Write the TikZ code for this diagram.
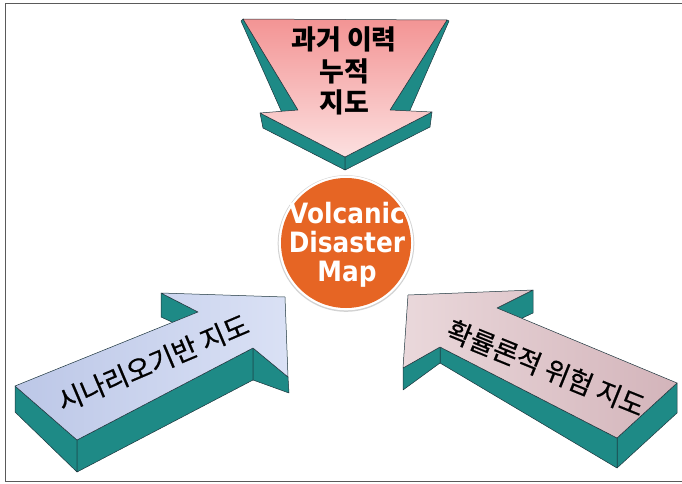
\documentclass[tikz,border=0pt]{standalone}
\usepackage{fontspec}
\newfontfamily\krfont{Noto Sans CJK KR}
\newfontfamily\krmid{Noto Sans CJK KR}[FakeBold=0.6]
\newfontfamily\vfont{DejaVu Sans}[FakeStretch=0.885]
\definecolor{tealc}{RGB}{30,138,134}
\definecolor{edgec}{RGB}{28,52,60}
\definecolor{framec}{RGB}{90,90,90}
\definecolor{pinkA}{RGB}{243,148,148}
\definecolor{pinkB}{RGB}{252,224,224}
\definecolor{blueA}{RGB}{188,199,231}
\definecolor{blueB}{RGB}{218,225,245}
\definecolor{mauveA}{RGB}{234,216,219}
\definecolor{mauveB}{RGB}{211,180,186}
\definecolor{orangec}{RGB}{230,101,36}
\tikzset{
  side/.style={fill=tealc, draw=edgec, line width=0.5pt, line join=round},
  face/.style={draw=edgec, line width=0.5pt, line join=round},
  krlbl/.style={font=\krmid\fontsize{27}{30}\selectfont, text=black},
}
\begin{document}
\begin{tikzpicture}[x=1pt,y=-1pt]
\useasboundingbox (0,0) rectangle (682,484);
% frame
\draw[framec, line width=1.3pt] (682,3.3) -- (5.3,3.3) -- (5.3,481.7) -- (682,481.7);

% ---------- top arrow ----------
\coordinate (tA) at (243,19);  \coordinate (tAb) at (241,21);
\coordinate (tB) at (447,20);  \coordinate (tBb) at (449,21);
\coordinate (tC) at (390,110); \coordinate (tCb) at (404,124);
\coordinate (tD) at (432,112); \coordinate (tDb) at (430,127);
\coordinate (tE) at (345,157); \coordinate (tEb) at (345,170);
\coordinate (tF) at (260,113); \coordinate (tFb) at (263,128);
\coordinate (tG) at (298,110); \coordinate (tGb) at (287,124);
\path[side] (tA) -- (tG) -- (tGb) -- (tAb) -- cycle;
\path[side] (tB) -- (tC) -- (tCb) -- (tBb) -- cycle;
\path[side] (tF) -- (tE) -- (tEb) -- (tFb) -- cycle;
\path[side] (tE) -- (tD) -- (tDb) -- (tEb) -- cycle;
\path[face, top color=pinkA, bottom color=pinkB]
  (tA) -- (tB) -- (tC) -- (tD) -- (tE) -- (tF) -- (tG) -- cycle;
\node[font=\krfont\bfseries\fontsize{27}{31.5}\selectfont, align=center] (past) at (344,71) {과거 이력\\누적\\지도};

% ---------- left arrow ----------
\coordinate (l1) at (15,386);  \coordinate (l1b) at (15,412);
\coordinate (l2) at (77,440);  \coordinate (l2b) at (77,472);
\coordinate (l3) at (253,348); \coordinate (l3b) at (253,380);
\coordinate (l4) at (288,377); \coordinate (l4b) at (289,393);
\coordinate (l5) at (285,297);
\coordinate (l6) at (161,293); \coordinate (l6b) at (161,317);
\coordinate (l7) at (198,312); \coordinate (l7b) at (198,334);
\path[side] (l6) -- (l7) -- (l7b) -- (l6b) -- cycle;
\path[side] (l1) -- (l2) -- (l2b) -- (l1b) -- cycle;
\path[side] (l2) -- (l3) -- (l3b) -- (l2b) -- cycle;
\path[side] (l3) -- (l4) -- (l4b) -- (l3b) -- cycle;
\path[face, left color=blueA, right color=blueB]
  (l1) -- (l2) -- (l3) -- (l4) -- (l5) -- (l6) -- (l7) -- cycle;
\node[krlbl, rotate=23] (scen) at (153,363) {시나리오기반 지도};

% ---------- right arrow ----------
\coordinate (r1) at (408,295);
\coordinate (r2) at (533,290); \coordinate (r2b) at (533,313);
\coordinate (r3) at (497,308); \coordinate (r3b) at (497,330);
\coordinate (r4) at (677,383); \coordinate (r4b) at (677,413);
\coordinate (r5) at (617,438); \coordinate (r5b) at (617,468);
\coordinate (r6) at (440,347); \coordinate (r6b) at (440,363);
\coordinate (r7) at (403,368); \coordinate (r7b) at (403,390);
\path[side] (r2) -- (r3) -- (r3b) -- (r2b) -- cycle;
\path[side] (r4) -- (r5) -- (r5b) -- (r4b) -- cycle;
\path[side] (r5) -- (r6) -- (r6b) -- (r5b) -- cycle;
\path[side] (r6) -- (r7) -- (r7b) -- (r6b) -- cycle;
\path[face, left color=mauveA, right color=mauveB]
  (r1) -- (r2) -- (r3) -- (r4) -- (r5) -- (r6) -- (r7) -- cycle;
\node[krlbl, rotate=-22] (prob) at (546,368) {확률론적 위험 지도};

% ---------- centre circle ----------
\fill[gray!35] (346,243.5) circle (68.3);
\fill[white] (346,243) circle (67.3);
\node[circle, fill=orangec, minimum size=130pt, inner sep=0pt] (hub) at (346,243) {};
\node[font=\vfont\bfseries\fontsize{28}{29}\selectfont, text=white, align=center] (vdm) at (347,245) {Volcanic\\Disaster\\Map};
\end{tikzpicture}
\end{document}
